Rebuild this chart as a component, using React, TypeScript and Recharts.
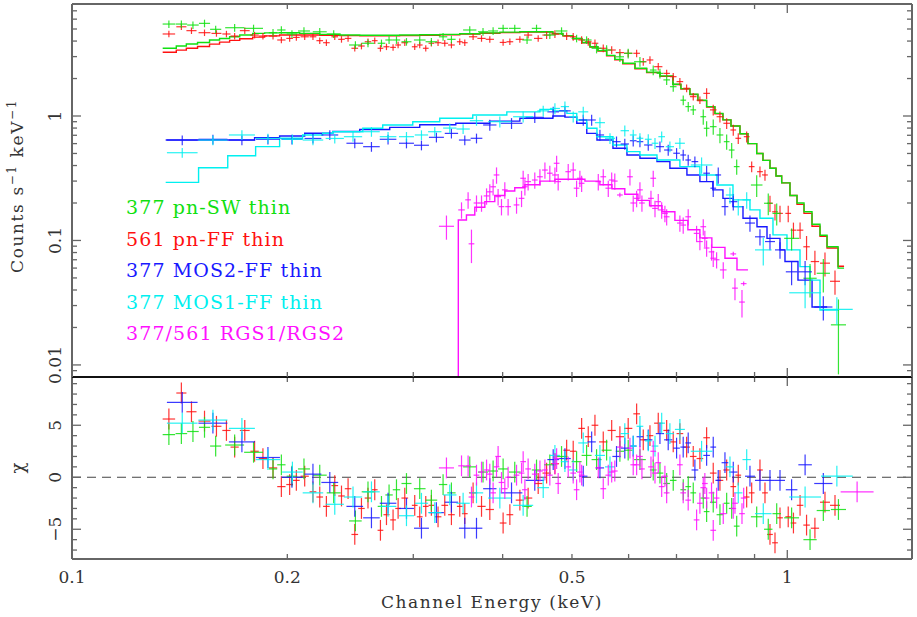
import React from "react";
import { ComposedChart, Scatter, Line, XAxis, YAxis, ErrorBar, ReferenceLine } from "recharts";

// ---- 377 pn-SW thin (green) : energy keV, counts/s/keV, fractional error, chi
const swE = [0.1366, 0.1422, 0.1476, 0.1532, 0.1588, 0.1688, 0.1794, 0.191, 0.1962, 0.203,
  0.211, 0.222, 0.2322, 0.249, 0.2593, 0.2708, 0.2775, 0.2842, 0.2935, 0.3063,
  0.318, 0.3302, 0.3392, 0.3598, 0.3755, 0.3879, 0.4006, 0.4159, 0.4327, 0.4461,
  0.4656, 0.4835, 0.5075, 0.5241, 0.5412, 0.559, 0.5834, 0.5992, 0.6223, 0.6495,
  0.6637, 0.6782, 0.6927, 0.7154, 0.727, 0.7388, 0.763, 0.7713, 0.7879, 0.8051,
  0.8227, 0.8361, 0.8497, 0.9062, 0.9406, 0.9665, 1.014, 1.076, 1.123, 1.179];
const swRate = [5.48, 5.48, 5.38, 5.55, 4.97, 5.12, 5.06, 4.67, 4.91, 4.56,
  4.82, 4.75, 4.56, 3.72, 3.84, 3.84, 4.08, 4.08, 3.95, 4.08,
  3.95, 4.33, 4.13, 4.91, 4.75, 4.82, 5.06, 5.06, 4.08, 5.06,
  4.47, 4.82, 4.2, 4.08, 3.5, 3.39, 2.99, 3.19, 2.73, 2.34,
  2.2, 1.95, 1.72, 1.34, 1.19, 1.12, 0.987, 0.797, 0.821, 0.704,
  0.622, 0.533, 0.392, 0.279, 0.199, 0.165, 0.104, 0.0497, 0.0545, 0.021];
const swErr = [0.07, 0.07, 0.07, 0.07, 0.07, 0.07, 0.07, 0.07, 0.07, 0.07,
  0.07, 0.07, 0.07, 0.07, 0.07, 0.07, 0.07, 0.07, 0.07, 0.07,
  0.07, 0.07, 0.07, 0.07, 0.07, 0.07, 0.07, 0.07, 0.07, 0.07,
  0.07, 0.07, 0.07, 0.07, 0.09, 0.09, 0.09, 0.09, 0.09, 0.09,
  0.09, 0.09, 0.09, 0.09, 0.09, 0.09, 0.14, 0.14, 0.14, 0.14,
  0.14, 0.14, 0.14, 0.2, 0.2, 0.2, 0.2, 0.3, 0.3, 0.6];
const swChi = [4.1, 4.2, 4.4, 4.8, 3.0, 3.1, 2.4, 0.8, 1.2, 0.1,
  0.8, 0.2, -1.5, -4.2, -1.4, -2.8, -1.7, -1.2, -0.6, -1.1,
  -2.2, -0.7, -1.5, 1.0, 0.5, 0.6, 0.8, 0.5, -2.8, 0.7,
  1.2, 2.0, 1.5, 2.1, 1.7, 2.6, 2.5, 2.6, 1.7, 0.7,
  0.4, -0.6, -0.3, -1.2, -0.9, -1.5, -2.0, -3.3, -2.4, -3.6,
  -2.5, -3.0, -4.7, -3.8, -5.0, -3.5, -3.9, -6.0, -3.2, -3.1];

// ---- 561 pn-FF thin (red)
const ffE = [0.1366, 0.1422, 0.1469, 0.1532, 0.1592, 0.1644, 0.1688, 0.1744, 0.18, 0.1849,
  0.191, 0.1962, 0.2015, 0.2059, 0.2115, 0.2172, 0.222, 0.2268, 0.233, 0.2381,
  0.2432, 0.2485, 0.2539, 0.2593, 0.265, 0.2699, 0.2752, 0.2811, 0.2857, 0.2919,
  0.3014, 0.3063, 0.3123, 0.318, 0.3249, 0.332, 0.3392, 0.3484, 0.3541, 0.3637,
  0.3737, 0.3838, 0.4006, 0.4094, 0.4228, 0.4342, 0.4485, 0.4608, 0.4733, 0.4915,
  0.502, 0.5158, 0.5269, 0.5384, 0.553, 0.5682, 0.5834, 0.5992, 0.6157, 0.629,
  0.6427, 0.6601, 0.6782, 0.6927, 0.7077, 0.7232, 0.7388, 0.7548, 0.7713, 0.7879,
  0.8051, 0.8227, 0.8404, 0.854, 0.8774, 0.8917, 0.9158, 0.9307, 0.9458, 0.9612,
  0.9768, 1.003, 1.02, 1.042, 1.064, 1.093, 1.129, 1.166];
const ffRate = [4.56, 5.21, 4.85, 4.67, 4.61, 4.56, 4.39, 4.85, 4.47, 4.39,
  4.39, 4.08, 4.2, 4.28, 4.33, 4.33, 4.03, 3.88, 4.33, 4.13,
  4.2, 3.5, 3.65, 3.95, 4.03, 3.5, 3.6, 3.56, 3.72, 3.88,
  3.6, 3.72, 3.5, 3.84, 3.88, 3.84, 3.72, 3.95, 3.88, 4.33,
  4.2, 4.13, 3.9, 3.95, 4.13, 4.47, 4.2, 4.47, 4.56, 4.39,
  4.33, 4.08, 3.95, 3.84, 3.5, 3.39, 3.23, 3.19, 3.19, 2.73,
  2.82, 2.49, 2.2, 2.07, 1.89, 1.67, 1.43, 1.34, 1.52, 1.12,
  0.987, 0.874, 0.772, 0.662, 0.682, 0.392, 0.357, 0.336, 0.199, 0.17,
  0.165, 0.165, 0.121, 0.121, 0.089, 0.0677, 0.0657, 0.047];
const ffErr = [0.06, 0.06, 0.06, 0.06, 0.06, 0.06, 0.06, 0.06, 0.06, 0.06,
  0.06, 0.06, 0.06, 0.06, 0.06, 0.06, 0.06, 0.06, 0.06, 0.06,
  0.06, 0.06, 0.06, 0.06, 0.06, 0.06, 0.06, 0.06, 0.06, 0.06,
  0.06, 0.06, 0.06, 0.06, 0.06, 0.06, 0.06, 0.06, 0.06, 0.06,
  0.06, 0.06, 0.06, 0.06, 0.06, 0.06, 0.06, 0.07, 0.07, 0.07,
  0.07, 0.07, 0.07, 0.07, 0.07, 0.07, 0.07, 0.07, 0.07, 0.07,
  0.07, 0.07, 0.07, 0.07, 0.07, 0.07, 0.07, 0.07, 0.1, 0.1,
  0.1, 0.1, 0.1, 0.1, 0.1, 0.1, 0.1, 0.1, 0.15, 0.15,
  0.15, 0.15, 0.15, 0.15, 0.22, 0.22, 0.22, 0.22];
const ffChi = [5.6, 8.1, 6.3, 5.4, 4.9, 4.5, 2.9, 4.5, 2.5, 1.8,
  0.9, -0.9, -0.7, -0.3, 0.1, -1.4, -1.9, -2.8, -0.8, -1.8,
  -1.1, -5.5, -3.0, -2.0, -1.2, -5.1, -3.6, -4.1, -3.0, -2.0,
  -2.7, -3.8, -2.8, -2.7, -3.8, -2.7, -3.6, -2.8, -3.5, -1.5,
  -2.8, -3.1, -4.4, -3.6, -2.2, -2.0, -0.6, 0.4, 1.3, 2.6,
  2.5, 4.7, 3.9, 5.0, 3.4, 4.5, 3.9, 4.7, 6.1, 3.6,
  4.0, 5.2, 4.5, 3.4, 4.2, 2.9, 2.0, 1.8, 3.8, 0.4,
  -0.3, 0.7, -0.9, 0.2, -1.9, -1.5, 0.7, -1.5, -5.5, -6.3,
  -3.9, -3.8, -4.4, -2.7, -4.6, -4.9, -2.4, -2.7];

// ---- 377 MOS2-FF thin (blue)
const m2E = [0.1426, 0.1574, 0.1728, 0.1879, 0.203, 0.2172, 0.2293, 0.2485, 0.2622, 0.2766,
  0.2935, 0.308, 0.3232, 0.3392, 0.3541, 0.3677, 0.3838, 0.4116, 0.4436, 0.4707,
  0.4888, 0.5185, 0.5327, 0.5471, 0.5771, 0.5927, 0.609, 0.6223, 0.6392, 0.6637,
  0.6816, 0.7002, 0.7153, 0.7269, 0.7427, 0.7713, 0.7879, 0.8007, 0.8182, 0.8404,
  0.8868, 0.9158, 0.9458, 0.9768, 1.014, 1.059, 1.123];
const m2Rate = [0.641, 0.65, 0.641, 0.65, 0.65, 0.66, 0.704, 0.604, 0.567, 0.65,
  0.604, 0.582, 0.674, 0.725, 0.641, 0.662, 0.847, 0.874, 0.976, 1.08,
  1.1, 0.929, 0.929, 0.704, 0.622, 0.596, 0.633, 0.622, 0.585, 0.567,
  0.533, 0.502, 0.486, 0.443, 0.43, 0.347, 0.263, 0.336, 0.187, 0.205,
  0.138, 0.107, 0.098, 0.084, 0.056, 0.056, 0.0292];
const m2Err = [0.09, 0.09, 0.09, 0.09, 0.09, 0.09, 0.09, 0.09, 0.09, 0.09,
  0.09, 0.09, 0.09, 0.09, 0.09, 0.09, 0.1, 0.1, 0.1, 0.1,
  0.1, 0.1, 0.1, 0.1, 0.1, 0.1, 0.1, 0.1, 0.1, 0.1,
  0.1, 0.1, 0.1, 0.1, 0.1, 0.15, 0.15, 0.15, 0.15, 0.15,
  0.15, 0.15, 0.15, 0.15, 0.22, 0.22, 0.22];
const m2Chi = [7.2, 5.2, 3.4, 1.9, 0.0, 0.3, -0.5, -2.8, -3.9, -2.5,
  -3.0, -4.9, -3.4, -2.4, -4.9, -4.9, -1.1, -1.5, -0.3, 1.7,
  1.8, 0.1, 3.4, 0.9, 2.0, 2.8, 3.0, 3.9, 3.6, 4.2,
  3.6, 2.8, 2.9, 3.3, 0.7, 2.1, 2.9, -0.3, 1.4, 0.5,
  0.1, -0.3, -0.3, -0.3, -1.2, 1.2, -0.6];

// ---- 377 MOS1-FF thin (cyan)
const m1E = [0.1426, 0.1574, 0.1728, 0.1879, 0.2033, 0.2172, 0.233, 0.2471, 0.2622, 0.2766,
  0.2935, 0.308, 0.3215, 0.3374, 0.3522, 0.3677, 0.3964, 0.4273, 0.4558, 0.4733,
  0.4888, 0.502, 0.5185, 0.5471, 0.5651, 0.5927, 0.609, 0.6223, 0.6392, 0.6532,
  0.6674, 0.6853, 0.7077, 0.7589, 0.8315, 0.854, 0.8775, 0.9256, 1.059, 1.173];
const m1Rate = [0.507, 0.641, 0.704, 0.66, 0.65, 0.641, 0.66, 0.682, 0.748, 0.682,
  0.682, 0.704, 0.748, 0.8, 0.786, 0.917, 0.9, 0.987, 1.1, 1.15,
  1.19, 0.987, 1.08, 0.884, 0.662, 0.762, 0.704, 0.662, 0.65, 0.604,
  0.682, 0.567, 0.604, 0.404, 0.232, 0.187, 0.212, 0.084, 0.038, 0.028];
const m1Err = [0.09, 0.09, 0.09, 0.09, 0.09, 0.09, 0.09, 0.09, 0.09, 0.09,
  0.09, 0.09, 0.09, 0.09, 0.09, 0.09, 0.1, 0.1, 0.1, 0.1,
  0.1, 0.1, 0.1, 0.1, 0.1, 0.1, 0.1, 0.1, 0.1, 0.1,
  0.1, 0.1, 0.1, 0.15, 0.15, 0.15, 0.15, 0.25, 0.25, 0.25];
const m1Chi = [5.2, 5.5, 4.7, 1.7, 0.5, -1.5, -2.6, -1.9, -1.4, -2.8,
  -3.7, -2.5, -3.4, -1.7, -2.5, -1.5, -2.0, -2.7, -1.0, 2.1,
  1.5, 0.7, 3.3, 2.1, 1.0, 4.2, 3.0, 4.9, 3.5, 3.0,
  5.2, 4.2, 4.6, 2.5, 1.0, -1.5, 1.7, -3.5, -1.9, 0.1];

// ---- 377/561 RGS1/RGS2 (magenta)
const rgsE = [0.3338, 0.3504, 0.3579, 0.3618, 0.3677, 0.3737, 0.3798, 0.3838, 0.3879, 0.3922,
  0.3942, 0.3985, 0.4028, 0.4071, 0.4183, 0.4251, 0.4273, 0.4297, 0.4342, 0.4436,
  0.451, 0.4583, 0.4656, 0.4733, 0.4759, 0.4783, 0.494, 0.502, 0.5075, 0.5129,
  0.5158, 0.5442, 0.553, 0.562, 0.5682, 0.5739, 0.5834, 0.6026, 0.609, 0.6157,
  0.6223, 0.6263, 0.6448, 0.6495, 0.6532, 0.6601, 0.6674, 0.6744, 0.6782, 0.7077,
  0.7153, 0.7269, 0.7468, 0.7548, 0.763, 0.7669, 0.7713, 0.7836, 0.7879, 0.7965,
  0.8137, 0.8404, 0.845, 0.8643, 0.869, 1.252];
const rgsRate = [0.13, 0.176, 0.212, 0.094, 0.2, 0.2, 0.228, 0.246, 0.27, 0.336,
  0.225, 0.187, 0.255, 0.187, 0.193, 0.218, 0.316, 0.27, 0.297, 0.306,
  0.325, 0.368, 0.347, 0.336, 0.417, 0.297, 0.357, 0.368, 0.263, 0.316,
  0.288, 0.297, 0.325, 0.263, 0.306, 0.3, 0.232, 0.325, 0.2, 0.218,
  0.255, 0.2, 0.218, 0.316, 0.181, 0.205, 0.176, 0.165, 0.155, 0.138,
  0.133, 0.155, 0.114, 0.098, 0.129, 0.104, 0.087, 0.081, 0.072, 0.07,
  0.058, 0.078, 0.0414, 0.032, 0.045, 0.006];
const rgsErr = [0.22, 0.15, 0.15, 0.3, 0.15, 0.15, 0.15, 0.15, 0.15, 0.15,
  0.15, 0.15, 0.15, 0.15, 0.15, 0.15, 0.15, 0.15, 0.15, 0.15,
  0.15, 0.15, 0.15, 0.15, 0.15, 0.15, 0.15, 0.15, 0.15, 0.15,
  0.15, 0.15, 0.15, 0.15, 0.15, 0.15, 0.04, 0.15, 0.15, 0.15,
  0.15, 0.15, 0.15, 0.15, 0.15, 0.15, 0.15, 0.15, 0.15, 0.15,
  0.15, 0.15, 0.15, 0.15, 0.15, 0.15, 0.15, 0.15, 0.15, 0.15,
  0.15, 0.04, 0.2, 0.25, 0.04, 0.3];
const rgsChi = [0.9, 1.1, 1.1, -1.9, 0.2, 0.5, 0.7, 0.3, -1.5, 1.0,
  2.0, -0.5, -1.1, 0.0, 0.2, 0.4, 1.5, -1.2, 0.8, 0.3,
  0.6, 0.7, 0.2, 1.3, 1.8, -0.6, 1.0, 0.4, -1.2, 0.5,
  0.2, 0.9, -1.1, 0.2, 0.5, 0.6, 2.9, 2.8, 1.2, 1.2,
  2.0, 0.8, 1.0, 2.5, 0.4, 1.4, -0.9, 0.1, -1.5, 1.2,
  -1.5, -2.2, -4.1, -2.5, -1.0, -0.6, -2.0, -1.5, -5.1, -2.0,
  -3.5, -3.0, -2.5, -3.5, -2.0, -1.4];

// ---- folded models, histogram left edges (keV) and values
const pnEdges = [0.1339, 0.1399, 0.1445, 0.1498, 0.1557, 0.1608, 0.1661, 0.1716, 0.1789, 0.1859,
  0.1951, 0.2081, 0.222, 0.2368, 0.2525, 0.2693, 0.2871, 0.3063, 0.3267, 0.3484,
  0.3717, 0.3964, 0.4228, 0.451, 0.4702, 0.4856, 0.5015, 0.5163, 0.5298, 0.5436,
  0.559, 0.5739, 0.5889, 0.6124, 0.6359, 0.6637, 0.692, 0.71, 0.7309, 0.7499,
  0.7713, 0.7922, 0.8129, 0.8342, 0.8587, 0.8811, 0.9062, 0.9247, 0.9458, 0.9643,
  0.9821, 1.0087, 1.0318, 1.0553, 1.0828, 1.1111, 1.1365, 1.1776, 1.2005];
const swModel = [3.5, 3.65, 3.79, 3.9, 4.08, 4.2, 4.33, 4.47, 4.61, 4.65,
  4.67, 4.61, 4.53, 4.47, 4.45, 4.45, 4.47, 4.5, 4.53, 4.58,
  4.65, 4.72, 4.75, 4.75, 4.6, 4.42, 4.2, 3.9, 3.6, 3.35,
  3.07, 2.85, 2.65, 2.42, 2.25, 2.1, 1.8, 1.66, 1.5, 1.34,
  1.19, 1.05, 0.93, 0.83, 0.72, 0.6, 0.5, 0.44, 0.38, 0.33,
  0.29, 0.23, 0.2, 0.17, 0.135, 0.11, 0.089, 0.06, 0.06];
const ffModel = [3.25, 3.38, 3.5, 3.62, 3.78, 3.92, 4.05, 4.18, 4.3, 4.4,
  4.47, 4.47, 4.45, 4.42, 4.4, 4.4, 4.42, 4.45, 4.5, 4.55,
  4.62, 4.68, 4.72, 4.72, 4.58, 4.4, 4.18, 3.88, 3.58, 3.33,
  3.05, 2.83, 2.63, 2.4, 2.23, 2.08, 1.79, 1.65, 1.49, 1.33,
  1.18, 1.04, 0.93, 0.83, 0.72, 0.6, 0.5, 0.44, 0.38, 0.33,
  0.29, 0.23, 0.195, 0.165, 0.13, 0.108, 0.087, 0.062, 0.062];
const m2Edges = [0.1352, 0.18, 0.1951, 0.2115, 0.2315, 0.2525, 0.2781, 0.3063, 0.344, 0.3838,
  0.4228, 0.4702, 0.4888, 0.5078, 0.5244, 0.5419, 0.5705, 0.5968, 0.6223, 0.6574,
  0.6853, 0.7239, 0.7548, 0.7869, 0.8129, 0.8396, 0.8671, 0.9071, 0.9368, 0.9768,
  0.9926, 1.035, 1.083, 1.137];
const m2Model = [0.641, 0.67, 0.69, 0.726, 0.75, 0.78, 0.81, 0.85, 0.874, 0.91,
  0.96, 1.0, 0.98, 0.874, 0.725, 0.641, 0.55, 0.486, 0.458, 0.43,
  0.38, 0.336, 0.297, 0.255, 0.218, 0.187, 0.151, 0.129, 0.104, 0.084,
  0.0677, 0.048, 0.0292, 0.0292];
const m1Edges = [0.1352, 0.1503, 0.1651, 0.1806, 0.1951, 0.2101, 0.2241, 0.2315, 0.255, 0.2719,
  0.2995, 0.3267, 0.3633, 0.4054, 0.451, 0.4702, 0.4919, 0.5078, 0.5244, 0.5419,
  0.5705, 0.5968, 0.6223, 0.6574, 0.7077, 0.7548, 0.7973, 0.8396, 0.8868, 0.9158,
  0.955, 0.999, 1.0418, 1.0759, 1.1111, 1.1813];
const m1Model = [0.293, 0.384, 0.48, 0.567, 0.662, 0.704, 0.726, 0.748, 0.797, 0.847,
  0.9, 0.958, 1.02, 1.08, 1.13, 1.1, 1.05, 0.929, 0.797, 0.682,
  0.585, 0.517, 0.486, 0.443, 0.392, 0.336, 0.279, 0.212, 0.176, 0.151,
  0.111, 0.084, 0.0616, 0.048, 0.0276, 0.0276];
const rgsEdges = [0.3396, 0.3468, 0.356, 0.3657, 0.3777, 0.39, 0.4028, 0.4159, 0.4297, 0.451,
  0.4733, 0.4966, 0.5213, 0.547, 0.5687, 0.5927, 0.6183, 0.6419, 0.6681, 0.6964,
  0.7262, 0.7548, 0.7844, 0.8182, 0.8505, 0.8811];
const rgsModel = [0.0001, 0.146, 0.16, 0.185, 0.205, 0.23, 0.25, 0.265, 0.28, 0.3,
  0.31, 0.31, 0.3, 0.28, 0.26, 0.235, 0.21, 0.19, 0.17, 0.145,
  0.122, 0.105, 0.088, 0.072, 0.058, 0.058];

// ---- axes
const xTicks = [0.1, 0.2, 0.3, 0.4, 0.5, 0.6, 0.7, 0.8, 0.9, 1];
const xLabels: Record<string, string> = { "0.1": "0.1", "0.2": "0.2", "0.5": "0.5", "1": "1" };
const rateTicks = [0.009, 0.01, 0.02, 0.03, 0.04, 0.05, 0.06, 0.07, 0.08, 0.09,
  0.1, 0.2, 0.3, 0.4, 0.5, 0.6, 0.7, 0.8, 0.9, 1, 2, 3, 4, 5, 6, 7];
const rateLabels: Record<string, string> = { "0.01": "0.01", "0.1": "0.1", "1": "1" };
const chiTicks = [-7, -6, -5, -4, -3, -2, -1, 0, 1, 2, 3, 4, 5, 6, 7, 8, 9];
const chiLabels: Record<string, string> = { "-5": "\u22125", "0": "0", "5": "5" };

const X_DOMAIN = [0.1, 1.494];
const RATE_DOMAIN = [0.008, 7.94];
const CHI_DOMAIN = [-7.86, 9.64];

const FONT = "'DejaVu Serif', serif";
const FRAME = "#666";

const sets = [
  { name: "561 pn-FF thin", color: "#ff1010", E: ffE, rate: ffRate, err: ffErr, chi: ffChi, mE: pnEdges, mV: ffModel },
  { name: "377 pn-SW thin", color: "#10e010", E: swE, rate: swRate, err: swErr, chi: swChi, mE: pnEdges, mV: swModel },
  { name: "377 MOS2-FF thin", color: "#1818ff", E: m2E, rate: m2Rate, err: m2Err, chi: m2Chi, mE: m2Edges, mV: m2Model },
  { name: "377 MOS1-FF thin", color: "#00f0f0", E: m1E, rate: m1Rate, err: m1Err, chi: m1Chi, mE: m1Edges, mV: m1Model },
  { name: "377/561 RGS1/RGS2", color: "#ff10ff", E: rgsE, rate: rgsRate, err: rgsErr, chi: rgsChi, mE: rgsEdges, mV: rgsModel },
];
const legendOrder = [1, 0, 2, 3, 4];

// half bin width in dex, from the neighbouring channels
const halfDex = (E: number[], i: number) => {
  const g: number[] = [];
  if (i > 0) g.push(Math.log10(E[i]) - Math.log10(E[i - 1]));
  if (i < E.length - 1) g.push(Math.log10(E[i + 1]) - Math.log10(E[i]));
  return Math.min(0.023, Math.max(0.004, Math.min(...g) / 2));
};
const xErr = (E: number[], i: number) => {
  const h = Math.pow(10, halfDex(E, i));
  return [E[i] - E[i] / h, E[i] * h - E[i]];
};

const noMark = () => <g />;

type Side = "bottom" | "top" | "left" | "right";
const tickFor = (side: Side, majors: number[], labels: Record<string, string> = {}) => (p: any) => {
  const v = Number(p.payload.value);
  const len = majors.some((m) => Math.abs(m - v) < 1e-9) ? 9 : 5;
  const { x, y } = p;
  const end = side === "bottom" ? [x, y - len] : side === "top" ? [x, y + len] : side === "left" ? [x + len, y] : [x - len, y];
  const lab = labels[String(v)];
  return (
    <g>
      <line x1={x} y1={y} x2={end[0]} y2={end[1]} stroke={FRAME} strokeWidth={1.3} />
      {lab !== undefined && side === "bottom" && (
        <text x={x} y={y + 24} textAnchor="middle" fontFamily={FONT} fontSize={17} fill="#333">{lab}</text>
      )}
      {lab !== undefined && side === "left" && (
        <text x={x - 11} y={y} transform={`rotate(-90 ${x - 11} ${y})`} textAnchor="middle" fontFamily={FONT} fontSize={17} fill="#333">{lab}</text>
      )}
    </g>
  );
};

// axes are 1px thick so Recharts draws them; margins are reduced by 1 to compensate
const axisCommon = { type: "number" as const, dataKey: "x", allowDataOverflow: true, interval: 0 as const, tickSize: 0, tickMargin: 0, tickLine: false };

function Panel({ top, height, margin, yScale, yDomain, yTicks, yMajors, yLabels, residual }: any) {
  return (
    <div style={{ position: "absolute", left: 0, top }}>
      <ComposedChart width={917} height={height} margin={margin}>
        <XAxis {...axisCommon} xAxisId="b" scale="log" domain={X_DOMAIN} ticks={xTicks} height={1}
          axisLine={{ stroke: residual ? FRAME : "#111", strokeWidth: 2 }}
          tick={tickFor("bottom", [0.1, 1], residual ? xLabels : {})} />
        <XAxis {...axisCommon} xAxisId="t" orientation="top" scale="log" domain={X_DOMAIN} ticks={xTicks} height={1}
          axisLine={{ stroke: residual ? "#111" : FRAME, strokeWidth: 2 }} tick={tickFor("top", [0.1, 1])} />
        <YAxis {...axisCommon} dataKey="y" yAxisId="l" scale={yScale} domain={yDomain} ticks={yTicks} width={1}
          axisLine={{ stroke: FRAME, strokeWidth: 2 }} tick={tickFor("left", yMajors, yLabels)} />
        <YAxis {...axisCommon} dataKey="y" yAxisId="r" orientation="right" scale={yScale} domain={yDomain} ticks={yTicks} width={1}
          axisLine={{ stroke: FRAME, strokeWidth: 2 }} tick={tickFor("right", yMajors)} />
        {residual && (
          <ReferenceLine xAxisId="b" yAxisId="l" y={0} stroke="#444" strokeWidth={1.2} strokeDasharray="9 6" />
        )}
        {!residual && sets.map((s) => (
          <Line key={"m" + s.name} xAxisId="b" yAxisId="l" data={s.mE.map((e, i) => ({ x: e, y: s.mV[i] }))}
            dataKey="y" type="stepAfter" dot={false} stroke={s.color} strokeWidth={1.4} isAnimationActive={false} />
        ))}
        {sets.map((s) => (
          <Scatter key={"d" + s.name} xAxisId="b" yAxisId="l" isAnimationActive={false} shape={noMark}
            data={s.E.map((e, i) => residual
              ? { x: e, y: s.chi[i], ex: xErr(s.E, i), ey: 1 }
              : { x: e, y: s.rate[i], ex: xErr(s.E, i), ey: [s.rate[i] * s.err[i], s.rate[i] * s.err[i]] })
              // a channel below the rate axis only shows in the residual panel
              .filter((d) => residual || d.y >= RATE_DOMAIN[0])}>
            <ErrorBar dataKey="ex" direction="x" width={0} stroke={s.color} strokeWidth={1.2} strokeOpacity={0.85} isAnimationActive={false} />
            <ErrorBar dataKey="ey" direction="y" width={0} stroke={s.color} strokeWidth={1.2} strokeOpacity={0.85} isAnimationActive={false} />
          </Scatter>
        ))}
      </ComposedChart>
    </div>
  );
}

export default function App() {
  return (
    <div style={{ position: "fixed", left: 0, top: 0, width: 917, height: 617, background: "#fff", overflow: "hidden" }}>
      <Panel top={370} height={247} margin={{ top: 6, right: 4, bottom: 57, left: 71 }}
        yScale="linear" yDomain={CHI_DOMAIN} yTicks={chiTicks} yMajors={[-5, 0, 5]} yLabels={chiLabels} residual={true} />
      <Panel top={0} height={392} margin={{ top: 3, right: 4, bottom: 14, left: 71 }}
        yScale="log" yDomain={RATE_DOMAIN} yTicks={rateTicks} yMajors={[0.01, 0.1, 1]} yLabels={rateLabels} residual={false} />
      <svg width={917} height={617} style={{ position: "absolute", left: 0, top: 0, pointerEvents: "none" }}>
        <g fontFamily={FONT} fill="#333">
          <text x={492} y={608} textAnchor="middle" fontSize={17} letterSpacing={1.6}>Channel Energy (keV)</text>
          <text transform="translate(23,186) rotate(-90)" textAnchor="middle" fontSize={17} letterSpacing={1.6}>
            Counts s<tspan dy={-7} fontSize={12}>{"\u22121"}</tspan><tspan dy={7}> keV</tspan><tspan dy={-7} fontSize={12}>{"\u22121"}</tspan>
          </text>
          <text transform="translate(24,468) rotate(-90)" textAnchor="middle" fontSize={18}>{"\u03c7"}</text>
        </g>
        {legendOrder.map((k, i) => (
          <text key={k} x={126} y={214 + i * 31.5} fontFamily={FONT} fontSize={19} letterSpacing={1.1} fill={sets[k].color}>
            {sets[k].name}
          </text>
        ))}
      </svg>
    </div>
  );
}
